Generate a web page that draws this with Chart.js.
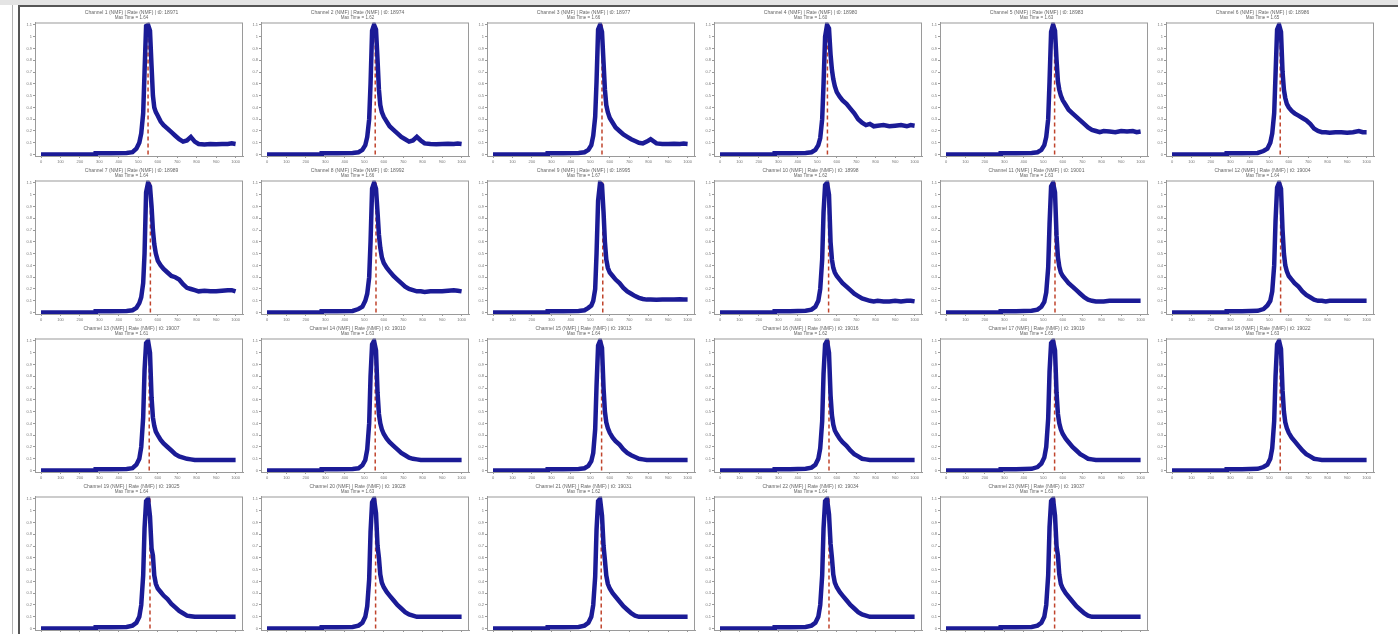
<!DOCTYPE html>
<html>
<head>
<meta charset="utf-8">
<script src="https://cdn.jsdelivr.net/npm/chart.js@4.4.1/dist/chart.umd.min.js"></script>
<style>
  html, body { margin: 0; padding: 0; background: #fff; width: 1398px; height: 634px; overflow: hidden; }
  #topbar { position: absolute; left: 0; top: 0; width: 1398px; height: 5px; background: #e4e4e4; }
  #sideline { position: absolute; left: 12px; top: 5px; width: 1px; height: 629px; background: #b4b4b4; }
  #frame { position: absolute; left: 18px; top: 5px; width: 1380px; height: 629px; border-left: 2px solid #555; border-top: 2px solid #555; box-sizing: border-box; }
  .cell { position: absolute; }
</style>
</head>
<body>
<div id="topbar"></div>
<div id="sideline"></div>
<div id="frame"></div>
<script>
// Sample positions shared by every trace (x tick units)
const X_VALUES = [0, 1, 2, 2.8, 2.81, 3.6, 4.4, 4.7, 4.9, 5.05, 5.15, 5.25, 5.32, 5.4, 5.5, 5.6, 5.68, 5.75, 5.82, 5.9,
  6.0, 6.15, 6.3, 6.5, 6.7, 6.9, 7.1, 7.3, 7.5, 7.7, 7.9, 8.1, 8.4, 8.7, 9.0, 9.3, 9.6, 9.8, 10.0];

const X_TICK_LABELS = ['0', '100', '200', '300', '400', '500', '600', '700', '800', '900', '1000'];
const Y_TICKS = [0, 0.1, 0.2, 0.3, 0.4, 0.5, 0.6, 0.7, 0.8, 0.9, 1.0, 1.1];
const Y_TICK_LABELS = ['0', '0.1', '0.2', '0.3', '0.4', '0.5', '0.6', '0.7', '0.8', '0.9', '1', '1.1'];

const TITLES = [
  'Channel 1 (NMF) | Rate (NMF) | t0: 18971', 'Channel 2 (NMF) | Rate (NMF) | t0: 18974', 'Channel 3 (NMF) | Rate (NMF) | t0: 18977',
  'Channel 4 (NMF) | Rate (NMF) | t0: 18980', 'Channel 5 (NMF) | Rate (NMF) | t0: 18983', 'Channel 6 (NMF) | Rate (NMF) | t0: 18986',
  'Channel 7 (NMF) | Rate (NMF) | t0: 18989', 'Channel 8 (NMF) | Rate (NMF) | t0: 18992', 'Channel 9 (NMF) | Rate (NMF) | t0: 18995',
  'Channel 10 (NMF) | Rate (NMF) | t0: 18998', 'Channel 11 (NMF) | Rate (NMF) | t0: 19001', 'Channel 12 (NMF) | Rate (NMF) | t0: 19004',
  'Channel 13 (NMF) | Rate (NMF) | t0: 19007', 'Channel 14 (NMF) | Rate (NMF) | t0: 19010', 'Channel 15 (NMF) | Rate (NMF) | t0: 19013',
  'Channel 16 (NMF) | Rate (NMF) | t0: 19016', 'Channel 17 (NMF) | Rate (NMF) | t0: 19019', 'Channel 18 (NMF) | Rate (NMF) | t0: 19022',
  'Channel 19 (NMF) | Rate (NMF) | t0: 19025', 'Channel 20 (NMF) | Rate (NMF) | t0: 19028', 'Channel 21 (NMF) | Rate (NMF) | t0: 19031',
  'Channel 22 (NMF) | Rate (NMF) | t0: 19034', 'Channel 23 (NMF) | Rate (NMF) | t0: 19037'
];
const SUBTITLES = [
  'Max Time = 1.64', 'Max Time = 1.62', 'Max Time = 1.66', 'Max Time = 1.60', 'Max Time = 1.63', 'Max Time = 1.65',
  'Max Time = 1.64', 'Max Time = 1.66', 'Max Time = 1.67', 'Max Time = 1.62', 'Max Time = 1.63', 'Max Time = 1.64',
  'Max Time = 1.61', 'Max Time = 1.63', 'Max Time = 1.64', 'Max Time = 1.62', 'Max Time = 1.65', 'Max Time = 1.63',
  'Max Time = 1.64', 'Max Time = 1.63', 'Max Time = 1.62', 'Max Time = 1.64', 'Max Time = 1.63'
];

// x of the dashed peak marker in each panel
const PEAK_X = [5.5, 5.56, 5.6, 5.52, 5.58, 5.56, 5.62, 5.6, 5.64, 5.58, 5.6, 5.58,
  5.56, 5.56, 5.58, 5.6, 5.58, 5.56, 5.6, 5.58, 5.56, 5.6, 5.58];

const SERIES_01 = [0, 0, 0, 0, 0.012, 0.012, 0.014, 0.02, 0.05, 0.1, 0.18, 0.35, 0.7, 1.09, 1.1, 1.05, 0.75, 0.5, 0.4, 0.36, 0.33, 0.28, 0.25, 0.22, 0.19, 0.16, 0.13, 0.11, 0.12, 0.15, 0.11, 0.09, 0.085, 0.09, 0.088, 0.09, 0.09, 0.095, 0.09];
const SERIES_02 = [0, 0, 0, 0, 0.012, 0.012, 0.014, 0.02, 0.04, 0.08, 0.15, 0.3, 0.6, 1.05, 1.1, 1.06, 0.8, 0.55, 0.42, 0.36, 0.32, 0.28, 0.24, 0.21, 0.18, 0.15, 0.13, 0.11, 0.12, 0.15, 0.12, 0.095, 0.09, 0.088, 0.09, 0.092, 0.09, 0.094, 0.09];
const SERIES_03 = [0, 0, 0, 0, 0.012, 0.012, 0.014, 0.02, 0.04, 0.08, 0.16, 0.32, 0.62, 1.06, 1.1, 1.04, 0.78, 0.55, 0.42, 0.36, 0.31, 0.27, 0.23, 0.2, 0.17, 0.15, 0.13, 0.115, 0.1, 0.095, 0.11, 0.13, 0.095, 0.09, 0.09, 0.092, 0.09, 0.093, 0.09];
const SERIES_04 = [0, 0, 0, 0, 0.012, 0.012, 0.014, 0.02, 0.04, 0.08, 0.14, 0.3, 0.6, 1.0, 1.1, 1.07, 0.85, 0.72, 0.64, 0.58, 0.53, 0.49, 0.46, 0.43, 0.39, 0.35, 0.3, 0.27, 0.25, 0.26, 0.24, 0.245, 0.25, 0.24, 0.245, 0.25, 0.24, 0.25, 0.245];
const SERIES_05 = [0, 0, 0, 0, 0.012, 0.012, 0.014, 0.02, 0.04, 0.08, 0.15, 0.3, 0.62, 1.04, 1.1, 1.05, 0.8, 0.62, 0.55, 0.5, 0.46, 0.42, 0.38, 0.35, 0.32, 0.29, 0.26, 0.23, 0.21, 0.2, 0.19, 0.2, 0.195, 0.19, 0.2, 0.195, 0.2, 0.19, 0.195];
const SERIES_06 = [0, 0, 0, 0, 0.012, 0.012, 0.014, 0.03, 0.05, 0.1, 0.18, 0.35, 0.68, 1.06, 1.1, 1.04, 0.7, 0.55, 0.48, 0.43, 0.4, 0.37, 0.35, 0.33, 0.31, 0.29, 0.26, 0.22, 0.2, 0.19, 0.19, 0.185, 0.19, 0.19, 0.185, 0.19, 0.2, 0.19, 0.19];
const SERIES_07 = [0, 0, 0, 0, 0.012, 0.012, 0.014, 0.02, 0.04, 0.08, 0.13, 0.25, 0.5, 1.02, 1.1, 1.07, 0.9, 0.7, 0.58, 0.5, 0.44, 0.4, 0.37, 0.34, 0.31, 0.3, 0.28, 0.24, 0.21, 0.2, 0.19, 0.18, 0.185, 0.18, 0.18, 0.185, 0.19, 0.19, 0.18];
const SERIES_08 = [0, 0, 0, 0, 0.012, 0.012, 0.014, 0.03, 0.05, 0.1, 0.16, 0.3, 0.6, 1.05, 1.1, 1.05, 0.85, 0.66, 0.55, 0.47, 0.42, 0.38, 0.35, 0.31, 0.28, 0.25, 0.22, 0.2, 0.19, 0.18, 0.18, 0.175, 0.18, 0.18, 0.18, 0.185, 0.19, 0.185, 0.18];
const SERIES_09 = [0, 0, 0, 0, 0.012, 0.012, 0.014, 0.02, 0.04, 0.06, 0.1, 0.2, 0.5, 0.95, 1.1, 1.08, 0.85, 0.6, 0.45, 0.38, 0.34, 0.31, 0.28, 0.25, 0.21, 0.18, 0.16, 0.14, 0.125, 0.115, 0.11, 0.11, 0.108, 0.11, 0.11, 0.11, 0.112, 0.11, 0.11];
const SERIES_10 = [0, 0, 0, 0, 0.012, 0.012, 0.015, 0.025, 0.05, 0.1, 0.2, 0.45, 0.85, 1.08, 1.1, 1.0, 0.6, 0.45, 0.38, 0.34, 0.31, 0.28, 0.25, 0.22, 0.19, 0.16, 0.14, 0.12, 0.11, 0.1, 0.095, 0.1, 0.095, 0.095, 0.1, 0.095, 0.1, 0.1, 0.095];
const SERIES_11 = [0, 0, 0, 0, 0.012, 0.012, 0.015, 0.025, 0.05, 0.09, 0.17, 0.38, 0.75, 1.07, 1.1, 1.02, 0.65, 0.47, 0.39, 0.34, 0.31, 0.28, 0.25, 0.22, 0.19, 0.16, 0.13, 0.11, 0.1, 0.095, 0.095, 0.095, 0.1, 0.1, 0.1, 0.1, 0.1, 0.1, 0.1];
const SERIES_12 = [0, 0, 0, 0, 0.012, 0.012, 0.015, 0.03, 0.06, 0.1, 0.18, 0.4, 0.78, 1.06, 1.1, 1.05, 0.7, 0.5, 0.4, 0.35, 0.31, 0.28, 0.25, 0.22, 0.18, 0.15, 0.13, 0.11, 0.1, 0.1, 0.095, 0.1, 0.1, 0.1, 0.1, 0.1, 0.1, 0.1, 0.1];
const SERIES_13 = [0, 0, 0, 0, 0.012, 0.012, 0.014, 0.02, 0.05, 0.1, 0.2, 0.45, 0.85, 1.08, 1.1, 1.0, 0.62, 0.45, 0.38, 0.33, 0.3, 0.26, 0.23, 0.2, 0.17, 0.14, 0.12, 0.11, 0.1, 0.095, 0.09, 0.09, 0.09, 0.09, 0.09, 0.09, 0.09, 0.09, 0.09];
const SERIES_14 = [0, 0, 0, 0, 0.012, 0.012, 0.014, 0.02, 0.045, 0.09, 0.18, 0.4, 0.8, 1.07, 1.1, 1.02, 0.66, 0.48, 0.4, 0.35, 0.31, 0.27, 0.24, 0.21, 0.18, 0.15, 0.13, 0.11, 0.1, 0.095, 0.09, 0.09, 0.09, 0.09, 0.09, 0.09, 0.09, 0.09, 0.09];
const SERIES_15 = [0, 0, 0, 0, 0.012, 0.012, 0.014, 0.02, 0.04, 0.08, 0.15, 0.35, 0.72, 1.06, 1.1, 1.04, 0.7, 0.5, 0.41, 0.36, 0.32, 0.28, 0.25, 0.22, 0.18, 0.15, 0.13, 0.115, 0.1, 0.095, 0.09, 0.09, 0.09, 0.09, 0.09, 0.09, 0.09, 0.09, 0.09];
const SERIES_16 = [0, 0, 0, 0, 0.012, 0.012, 0.015, 0.025, 0.05, 0.1, 0.19, 0.42, 0.82, 1.07, 1.1, 1.0, 0.64, 0.47, 0.39, 0.34, 0.31, 0.27, 0.24, 0.21, 0.17, 0.14, 0.12, 0.1, 0.095, 0.09, 0.09, 0.09, 0.09, 0.09, 0.09, 0.09, 0.09, 0.09, 0.09];
const SERIES_17 = [0, 0, 0, 0, 0.012, 0.012, 0.015, 0.03, 0.06, 0.11, 0.2, 0.44, 0.84, 1.08, 1.1, 1.02, 0.66, 0.48, 0.4, 0.35, 0.31, 0.27, 0.24, 0.2, 0.17, 0.14, 0.12, 0.1, 0.095, 0.09, 0.09, 0.09, 0.09, 0.09, 0.09, 0.09, 0.09, 0.09, 0.09];
const SERIES_18 = [0, 0, 0, 0, 0.012, 0.012, 0.015, 0.03, 0.05, 0.1, 0.19, 0.42, 0.8, 1.07, 1.1, 1.03, 0.68, 0.5, 0.41, 0.36, 0.32, 0.28, 0.25, 0.21, 0.17, 0.14, 0.12, 0.1, 0.095, 0.09, 0.09, 0.09, 0.09, 0.09, 0.09, 0.09, 0.09, 0.09, 0.09];
const SERIES_19 = [0, 0, 0, 0, 0.012, 0.012, 0.014, 0.025, 0.05, 0.1, 0.2, 0.45, 0.85, 1.08, 1.1, 0.95, 0.68, 0.62, 0.45, 0.38, 0.34, 0.31, 0.28, 0.25, 0.21, 0.18, 0.15, 0.13, 0.11, 0.105, 0.1, 0.1, 0.1, 0.1, 0.1, 0.1, 0.1, 0.1, 0.1];
const SERIES_20 = [0, 0, 0, 0, 0.012, 0.012, 0.014, 0.025, 0.05, 0.1, 0.19, 0.42, 0.82, 1.07, 1.1, 0.98, 0.7, 0.6, 0.46, 0.39, 0.35, 0.31, 0.28, 0.24, 0.2, 0.17, 0.14, 0.12, 0.11, 0.1, 0.1, 0.1, 0.1, 0.1, 0.1, 0.1, 0.1, 0.1, 0.1];
const SERIES_21 = [0, 0, 0, 0, 0.012, 0.012, 0.014, 0.025, 0.05, 0.1, 0.2, 0.44, 0.84, 1.08, 1.1, 0.96, 0.7, 0.58, 0.45, 0.38, 0.34, 0.3, 0.27, 0.23, 0.19, 0.16, 0.13, 0.11, 0.1, 0.1, 0.1, 0.1, 0.1, 0.1, 0.1, 0.1, 0.1, 0.1, 0.1];
const SERIES_22 = [0, 0, 0, 0, 0.012, 0.012, 0.014, 0.025, 0.05, 0.1, 0.2, 0.45, 0.85, 1.08, 1.1, 0.97, 0.72, 0.6, 0.46, 0.39, 0.35, 0.31, 0.28, 0.24, 0.2, 0.17, 0.14, 0.12, 0.11, 0.1, 0.1, 0.1, 0.1, 0.1, 0.1, 0.1, 0.1, 0.1, 0.1];
const SERIES_23 = [0, 0, 0, 0, 0.012, 0.012, 0.014, 0.025, 0.05, 0.1, 0.2, 0.45, 0.86, 1.08, 1.1, 0.96, 0.7, 0.62, 0.46, 0.38, 0.34, 0.3, 0.27, 0.23, 0.19, 0.16, 0.13, 0.11, 0.1, 0.1, 0.1, 0.1, 0.1, 0.1, 0.1, 0.1, 0.1, 0.1, 0.1];

const SERIES = [SERIES_01, SERIES_02, SERIES_03, SERIES_04, SERIES_05, SERIES_06, SERIES_07, SERIES_08,
  SERIES_09, SERIES_10, SERIES_11, SERIES_12, SERIES_13, SERIES_14, SERIES_15, SERIES_16, SERIES_17,
  SERIES_18, SERIES_19, SERIES_20, SERIES_21, SERIES_22, SERIES_23];

const FONT = 'Liberation Sans, Arial, sans-serif';
const CELL_W = 226;
const CELL_H = 158;

// Outline the plot area on all four sides, like the original figure boxes.
const frameBox = {
  id: 'frameBox',
  afterDraw(chart) {
    const { ctx, chartArea } = chart;
    ctx.save();
    ctx.strokeStyle = '#9a9a9a';
    ctx.lineWidth = 1;
    ctx.strokeRect(chartArea.left + 0.5, chartArea.top + 0.5,
      chartArea.right - chartArea.left - 1, chartArea.bottom - chartArea.top);
    ctx.restore();
  }
};

const buildPanel = (i) => {
  const row = Math.floor(i / 6);
  const col = i % 6;
  const cell = document.createElement('div');
  cell.className = 'cell';
  cell.style.left = Math.round(20 + col * 226.2) + 'px';
  cell.style.top = Math.round(7 + row * 158) + 'px';
  const canvas = document.createElement('canvas');
  canvas.width = CELL_W;
  canvas.height = CELL_H;
  cell.appendChild(canvas);
  document.body.appendChild(cell);

  new Chart(canvas, {
    type: 'line',
    data: {
      datasets: [
        {
          data: X_VALUES.map((x, k) => ({ x, y: SERIES[i][k] })),
          borderColor: '#1b1b96',
          borderWidth: 4.5,
          pointRadius: 0,
          tension: 0,
          order: 0
        },
        {
          data: [{ x: PEAK_X[i], y: 0 }, { x: PEAK_X[i], y: 1.12 }],
          borderColor: '#c0442c',
          borderWidth: 1.5,
          borderDash: [4, 3],
          pointRadius: 0,
          order: 1
        }
      ]
    },
    options: {
      responsive: false,
      animation: false,
      devicePixelRatio: 1,
      layout: { padding: { left: 0, right: 3, top: 0, bottom: 0 } },
      plugins: {
        legend: { display: false },
        tooltip: { enabled: false },
        title: {
          display: true,
          text: TITLES[i],
          color: '#666',
          font: { family: FONT, size: 5, weight: 'normal', lineHeight: 1 },
          padding: { top: 3, bottom: 1 }
        },
        subtitle: {
          display: true,
          text: SUBTITLES[i],
          color: '#666',
          font: { family: FONT, size: 4.5, lineHeight: 1 },
          padding: { top: 0, bottom: 2 }
        }
      },
      scales: {
        x: {
          type: 'linear',
          min: -0.31,
          max: 10.38,
          afterBuildTicks: (scale) => { scale.ticks = X_TICK_LABELS.map((_, k) => ({ value: k })); },
          afterFit: (scale) => { scale.height = 9; },
          ticks: {
            color: '#777',
            font: { family: FONT, size: 4 },
            maxRotation: 0,
            autoSkip: false,
            padding: 1,
            callback: (value, index) => X_TICK_LABELS[index]
          },
          grid: { drawOnChartArea: false, tickLength: 2, color: '#999' },
          border: { color: '#9a9a9a' }
        },
        y: {
          min: -0.012,
          max: 1.12,
          afterBuildTicks: (scale) => { scale.ticks = Y_TICKS.map((v) => ({ value: v })); },
          afterFit: (scale) => { scale.width = 15; },
          ticks: {
            color: '#777',
            font: { family: FONT, size: 4 },
            autoSkip: false,
            padding: 1,
            callback: (value, index) => Y_TICK_LABELS[index]
          },
          grid: { drawOnChartArea: false, tickLength: 2, color: '#999' },
          border: { color: '#9a9a9a' }
        }
      }
    },
    plugins: [frameBox]
  });
};

SERIES.forEach((_, i) => buildPanel(i));
</script>
</body>
</html>
